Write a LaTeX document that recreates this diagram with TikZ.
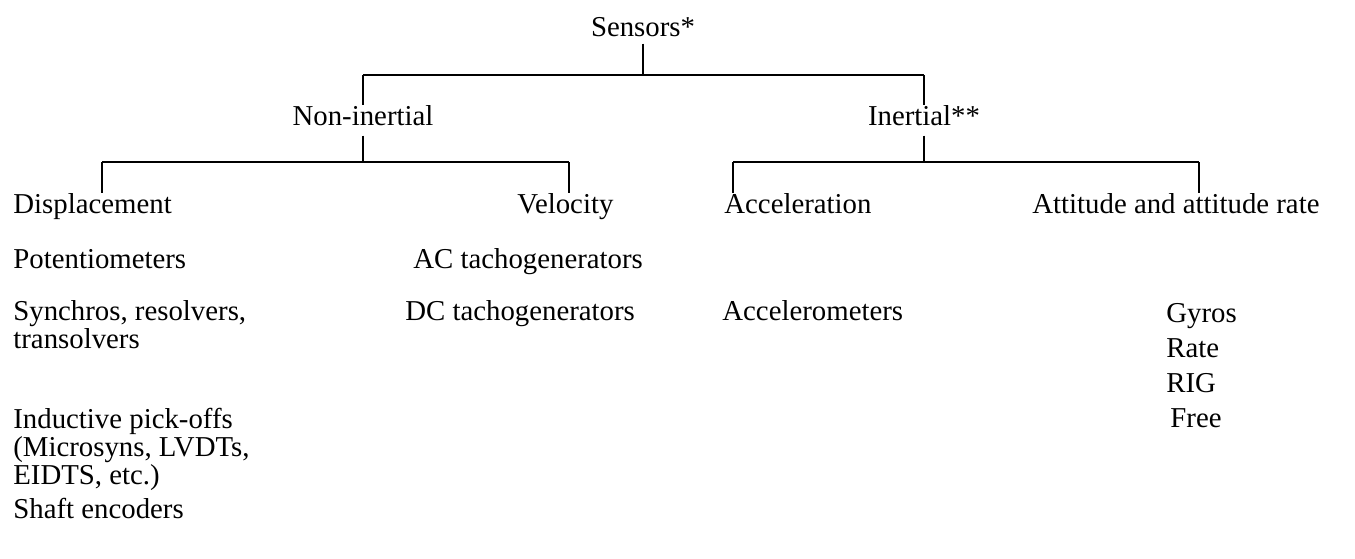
\documentclass[tikz,border=0pt]{standalone}
\usepackage{fontspec}
\setmainfont{Liberation Serif}
\begin{document}
\begin{tikzpicture}[
  x=0.5pt, y=-0.5pt,
  lbl/.style={inner sep=0pt, anchor=base west, font=\fontsize{14.4}{14}\selectfont},
  head/.style={inner sep=0pt, anchor=base, font=\fontsize{14.4}{14}\selectfont},
  multi/.style={inner sep=0pt, anchor=north west, align=left, font=\fontsize{14.4}{14}\selectfont},
  tree/.style={line width=1.1pt}
]
\useasboundingbox (0,0) rectangle (1355,558);
% top levels
\node[head] (sensors) at (643,36) {Sensors*};
\node[head] (noninert) at (363,125) {Non-inertial};
\node[head] (inert) at (924,125) {Inertial**};
% second level
\node[lbl] (disp) at (13,213) {Displacement};
\node[lbl] (velo) at (517,213) {Velocity};
\node[lbl] (accel) at (724,213) {Acceleration};
\node[lbl] (attit) at (1032,213) {Attitude and attitude rate};
% sensor lists
\node[lbl] (poti) at (13,268) {Potentiometers};
\node[multi] (synchro) at (13,300) {Synchros, resolvers,\\transolvers};
\node[multi] (induct) at (13,408) {Inductive pick-offs\\(Microsyns, LVDTs,\\EIDTS, etc.)};
\node[lbl] (shaft) at (13,518) {Shaft encoders};
\node[lbl] (actacho) at (413,268) {AC tachogenerators};
\node[lbl] (dctacho) at (405,320) {DC tachogenerators};
\node[lbl] (accmeter) at (722,320) {Accelerometers};
\node[multi, font=\fontsize{14.4}{17.5}\selectfont] (gyros) at (1166,303) {Gyros\\Rate\\RIG\\\hspace{2pt}Free};
% branches
\coordinate (bar0l) at (363,75);
\coordinate (bar0r) at (924,75);
\coordinate (bar1l) at (102,162);
\coordinate (bar1r) at (569,162);
\coordinate (bar2l) at (733,162);
\coordinate (bar2r) at (1199,162);
\draw[tree] ([yshift=-3.5pt]sensors.south) -- (sensors.south |- bar0l);
\draw[tree] (bar0l) -- (bar0r);
\draw[tree] (bar0l) -- (noninert.north);
\draw[tree] (bar0r) -- (inert.north);
\draw[tree] ([yshift=-5pt]noninert.south) -- (noninert.south |- bar1l);
\draw[tree] (bar1l) -- (bar1r);
\draw[tree] (bar1l) -- (bar1l |- disp.north);
\draw[tree] (bar1r) -- (bar1r |- velo.north);
\draw[tree] ([yshift=-5pt]inert.south) -- (inert.south |- bar2l);
\draw[tree] (bar2l) -- (bar2r);
\draw[tree] (bar2l) -- (bar2l |- accel.north);
\draw[tree] (bar2r) -- (bar2r |- attit.north);
\end{tikzpicture}
\end{document}
